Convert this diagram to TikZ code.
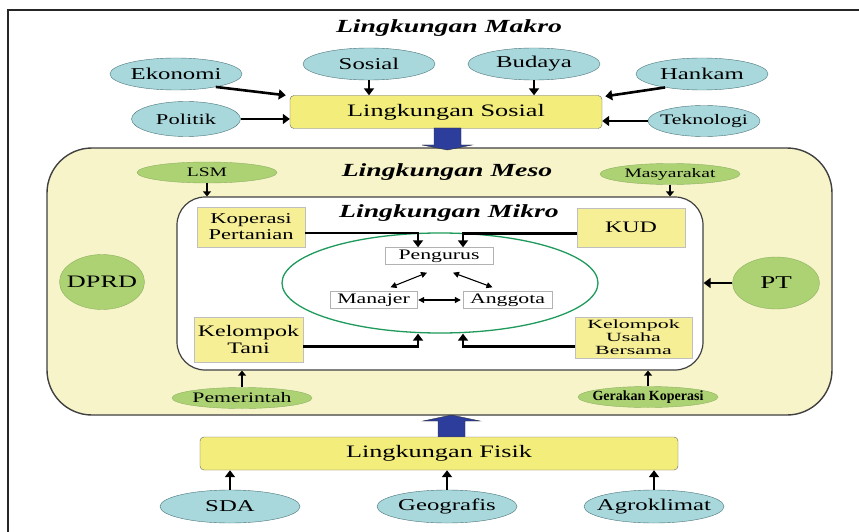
\documentclass[tikz,border=0pt]{standalone}
\usepackage{fontspec}
\setmainfont{Liberation Serif}[FakeStretch=1.5]
\newfontfamily\condserif{Liberation Serif}
\newfontfamily\wideserif{Liberation Serif}[FakeStretch=1.75]
\usetikzlibrary{shapes.geometric,arrows.meta}
\definecolor{tealfill}{HTML}{A8D8DC}
\definecolor{tealline}{HTML}{4A747A}
\definecolor{boxyellow}{HTML}{F3EE7C}
\definecolor{paleyellow}{HTML}{F7F4CA}
\definecolor{smallyellow}{HTML}{F6EF96}
\definecolor{leafgreen}{HTML}{ADD273}
\definecolor{leafline}{HTML}{8DB060}
\definecolor{ringgreen}{HTML}{1E9A5C}
\definecolor{blockblue}{HTML}{2C3D9C}

\begin{document}
\begin{tikzpicture}[x=1pt,y=-1pt,
  makro/.style={ellipse,draw=tealline,fill=tealfill,inner xsep=-10pt,inner ysep=0pt,minimum width=132pt,minimum height=32pt,font=\fontsize{16.5}{18}\selectfont},
  meso/.style={ellipse,draw=leafline,fill=leafgreen,inner xsep=-10pt,inner ysep=-1pt,minimum width=140pt,minimum height=21pt,font=\fontsize{13}{14}\selectfont},
  lingbox/.style={draw=black!60,fill=boxyellow,rounded corners=4pt,inner sep=0pt,minimum height=33pt,font=\fontsize{17.5}{19}\selectfont},
  unit/.style={draw=black!25,fill=smallyellow,inner sep=0pt,align=center,font=\fontsize{15}{16}\selectfont},
  role/.style={draw=black!30,fill=white,inner sep=0pt,minimum height=17pt,font=\fontsize{14.5}{15}\selectfont},
  judul/.style={font=\fontsize{18.5}{20}\selectfont\bfseries\itshape},
  arr/.style={-{Triangle[width=10pt,length=7pt]},line width=2.6pt},
  sarr/.style={-{Triangle[width=8pt,length=5pt]},line width=2pt},
  duo/.style={{Triangle[width=6pt,length=6pt]}-{Triangle[width=6pt,length=6pt]},line width=1.1pt}]
\useasboundingbox (0,0) rectangle (859,532);
\fill[white] (0,0) rectangle (859,532);
\draw[line width=2.5pt,black!85] (8,532) -- (8,10) -- (859,10);

\node[judul] (tmakro) at (449,28) {Lingkungan Makro};
\node[lingbox,minimum width=312pt] (lsos) at (446,112) {Lingkungan Sosial};
\node[makro] (eko) at (176,74) {Ekonomi};
\node[makro] (sos) at (369,64) {Sosial};
\node[makro] (bud) at (534,64) {Budaya};
\node[makro] (han) at (702,74) {Hankam};
\node[makro,minimum width=109pt,minimum height=35pt,font=\fontsize{15}{16}\selectfont] (pol) at (186,119) {Politik};
\node[makro,minimum width=112pt,minimum height=31pt,font=\fontsize{14.5}{16}\selectfont] (tek) at (704,121) {Teknologi};
\draw[arr] (eko.-18) -- ([xshift=-4pt]lsos.north west);
\draw[arr] (han.200) -- ([xshift=3pt,yshift=-1pt]lsos.north east);
\draw[arr] (sos.south) -- (sos.south |- lsos.north);
\draw[arr] (bud.south) -- (bud.south |- lsos.north);
\draw[arr] (pol.east) -- (pol.east -| lsos.west);
\draw[arr] (tek.west) -- (tek.west -| lsos.east);

\node[draw=black!75,line width=1.4pt,fill=paleyellow,rounded corners=45pt,minimum width=785pt,minimum height=267pt] (meso) at (439.5,281.5) {};
\draw[black!80,fill=blockblue] (434,128) -- (461,128) -- (461,145) -- (472,145) -- (447.5,150) -- (422,145) -- (434,145) -- cycle;
\node[judul] (tmeso) at (447,172) {Lingkungan Meso};
\node[draw=black!75,line width=1.2pt,fill=white,rounded corners=28pt,minimum width=526pt,minimum height=173pt] (mikro) at (440,283.5) {};
\node[judul] (tmikro) at (449,213) {Lingkungan Mikro};
\node[ellipse,draw=ringgreen,line width=1.3pt,minimum width=316pt,minimum height=100pt] (ring) at (440,283) {};

\node[unit,minimum width=108pt,minimum height=40pt] (kop) at (251,227) {Koperasi\\Pertanian};
\node[unit,minimum width=108pt,minimum height=39pt,font=\fontsize{16}{17}\selectfont] (kud) at (631,227.5) {KUD};
\node[unit,minimum width=109pt,minimum height=45pt,font=\fontsize{16}{17}\selectfont] (tani) at (248.5,339.5) {Kelompok\\Tani};
\node[unit,minimum width=117pt,minimum height=41pt,font=\wideserif\fontsize{12.5}{13}\selectfont] (kub) at (633.5,337.5) {Kelompok\\Usaha\\Bersama};
\node[role,minimum width=108pt] (pen) at (439,256) {Pengurus};
\node[role,minimum width=87pt] (man) at (373.5,300) {Manajer};
\node[role,minimum width=89pt] (ang) at (507.5,300) {Anggota};
\draw[arr] ([yshift=-6pt]kop.east) -| ([xshift=-21pt]pen.north);
\draw[arr] ([yshift=-6pt]kud.west) -| ([xshift=24pt]pen.north);
\draw[arr] ([yshift=-7pt]tani.east) -| ([xshift=-22pt]ring.south);
\draw[arr] ([yshift=-9pt]kub.west) -| ([xshift=23pt]ring.south);
\draw[duo] ([shift={(17pt,4pt)}]man.north) -- ([shift={(-12pt,-8pt)}]pen.south);
\draw[duo] ([shift={(14pt,-8pt)}]pen.south) -- ([shift={(-15pt,4pt)}]ang.north);
\draw[duo] ([xshift=1pt]man.east) -- ([xshift=-2pt]ang.west);

\node[meso] (lsm) at (207,172.5) {LSM};
\node[meso] (mas) at (670,174) {Masyarakat};
\node[meso,font=\fontsize{14.5}{15}\selectfont] (pem) at (242,398) {Pemerintah};
\node[meso,font=\condserif\bfseries\fontsize{14}{15}\selectfont] (gk) at (648,397) {Gerakan Koperasi};
\node[meso,minimum width=85pt,minimum height=55pt,font=\fontsize{17.5}{18}\selectfont] (dprd) at (102,282) {DPRD};
\node[meso,minimum width=87pt,minimum height=52pt,font=\fontsize{18}{19}\selectfont] (pt) at (776,283) {PT};
\draw[sarr] (lsm.south) -- (lsm.south |- mikro.north);
\draw[sarr] (mas.south) -- (mas.south |- mikro.north);
\draw[sarr] (pem.north) -- (pem.north |- mikro.south);
\draw[sarr] (gk.north) -- (gk.north |- mikro.south);
\draw[arr] (pt.west) -- (pt.west -| mikro.east);

\draw[black!80,fill=blockblue] (438,437) -- (465,437) -- (465,421) -- (480,421) -- (451.5,415) -- (423,421) -- (438,421) -- cycle;
\node[lingbox,minimum width=478pt] (fis) at (439,453.5) {Lingkungan Fisik};
\node[makro,minimum width=140pt,minimum height=33pt] (sda) at (230,506.5) {SDA};
\node[makro,minimum width=140pt,minimum height=33pt] (geo) at (447,506.5) {Geografis};
\node[makro,minimum width=140pt,minimum height=33pt] (agr) at (654,506.5) {Agroklimat};
\draw[arr] (sda.north) -- (sda.north |- fis.south);
\draw[arr] (geo.north) -- (geo.north |- fis.south);
\draw[arr] (agr.north) -- (agr.north |- fis.south);
\end{tikzpicture}
\end{document}
